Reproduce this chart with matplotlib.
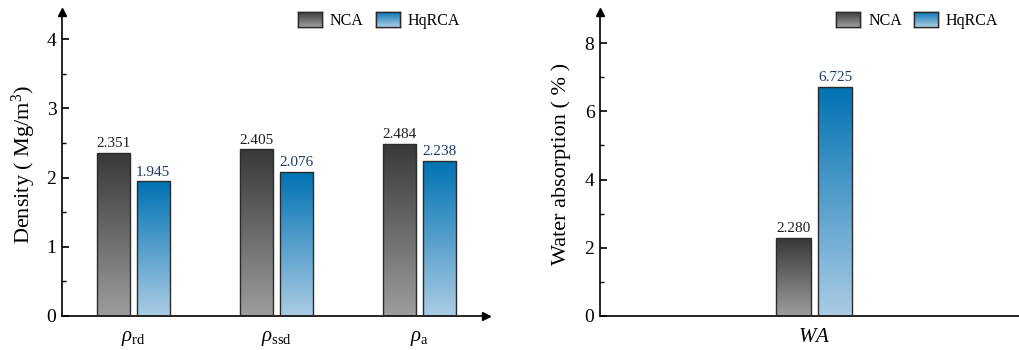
import matplotlib
matplotlib.use('Agg')
import matplotlib.pyplot as plt
import numpy as np
from matplotlib.colors import LinearSegmentedColormap
from matplotlib.ticker import MultipleLocator

plt.rcParams['font.family'] = ['Liberation Serif', 'DejaVu Serif']
plt.rcParams['mathtext.fontset'] = 'custom'
plt.rcParams['mathtext.rm'] = 'Liberation Serif'
plt.rcParams['mathtext.it'] = 'Liberation Serif:italic'

# densities (Mg/m3)
density_labels = [r'$\rho_{\mathrm{rd}}$', r'$\rho_{\mathrm{ssd}}$', r'$\rho_{\mathrm{a}}$']
density_nca = [2.351, 2.405, 2.484]
density_hqrca = [1.945, 2.076, 2.238]

# water absorption (%)
wa_labels = [r'$WA$']
wa_nca = [2.280]
wa_hqrca = [6.725]

series_names = ['NCA', 'HqRCA']

cmap_nca = LinearSegmentedColormap.from_list('nca', ['#9d9d9d', '#383838'])
cmap_hq = LinearSegmentedColormap.from_list('hq', ['#abcce5', '#0072b2'])

W = 0.23
OFF = 0.138


def gradient_bars(ax, x, vals, cmap):
    bars = ax.bar(x, vals, W, facecolor='none', edgecolor='#2b2b2b', lw=1.0, zorder=3)
    grad = np.linspace(0, 1, 256).reshape(-1, 1)
    for b in bars:
        x0, w, h = b.get_x(), b.get_width(), b.get_height()
        im = ax.imshow(grad, cmap=cmap, origin='lower', aspect='auto',
                       extent=(x0, x0 + w, 0, h), zorder=2)
        im.set_clip_path(b)
    return bars


def style_axis(ax, ymax, major, minor, xlim, arrow_x=True):
    ax.set_xlim(*xlim)
    ax.set_ylim(0, ymax)
    for s in ['top', 'right']:
        ax.spines[s].set_visible(False)
    for s in ['left', 'bottom']:
        ax.spines[s].set_linewidth(1.2)
    ax.yaxis.set_major_locator(MultipleLocator(major))
    ax.yaxis.set_minor_locator(MultipleLocator(minor))
    ax.tick_params(axis='y', which='major', direction='in', length=5, width=1.2,
                   labelsize=14, pad=4)
    ax.tick_params(axis='y', which='minor', direction='in', length=3, width=1.0)
    ax.tick_params(axis='x', length=0, labelsize=15, pad=9)
    ax.plot(0, 1, '^k', ms=6, transform=ax.transAxes, clip_on=False)
    if arrow_x:
        ax.plot(1, 0, '>k', ms=6, transform=ax.transAxes, clip_on=False)


def add_labels(ax, bars, vals, color):
    for b, v in zip(bars, vals):
        ax.annotate('%.3f' % v, (b.get_x() + b.get_width() / 2, v),
                    xytext=(0, 2), textcoords='offset points',
                    ha='center', va='bottom', fontsize=11, color=color)


fig = plt.figure(figsize=(10.2, 3.5), dpi=100)

# density panel
ax1 = fig.add_axes([62 / 1020, 34 / 350, 424 / 1020, 304 / 350])
x = np.arange(len(density_labels))
b1 = gradient_bars(ax1, x - OFF, density_nca, cmap_nca)
b2 = gradient_bars(ax1, x + OFF, density_hqrca, cmap_hq)
add_labels(ax1, b1, density_nca, '#1e1e1e')
add_labels(ax1, b2, density_hqrca, '#1f3a66')
style_axis(ax1, 4.39, 1, 0.5, (-0.5, 2.465))
ax1.set_xticks(x)
ax1.set_xticklabels(density_labels)
ax1.set_ylabel('Density ( Mg/m$^3$)', fontsize=16, labelpad=6)

# water absorption panel
ax2 = fig.add_axes([600 / 1020, 34 / 350, 420 / 1020, 304 / 350])
x2 = np.arange(len(wa_labels))
c1 = gradient_bars(ax2, x2 - OFF, wa_nca, cmap_nca)
c2 = gradient_bars(ax2, x2 + OFF, wa_hqrca, cmap_hq)
add_labels(ax2, c1, wa_nca, '#1e1e1e')
add_labels(ax2, c2, wa_hqrca, '#1f3a66')
style_axis(ax2, 8.91, 2, 1, (-1.408, 1.355), arrow_x=False)
ax2.set_xticks(x2)
ax2.set_xticklabels(wa_labels)
ax2.set_ylabel('Water absorption ( % )', fontsize=16, labelpad=10)

# legends with gradient swatches
legends = []
for ax, anchor, bars in [(ax1, 0.939, (b1, b2)), (ax2, 0.948, (c1, c2))]:
    leg = ax.legend([bars[0][0], bars[1][0]], series_names, loc='upper right',
                    bbox_to_anchor=(anchor, 1.0), ncol=2, frameon=False,
                    fontsize=11.5, handlelength=1.5, handleheight=1.1,
                    handletextpad=0.5, columnspacing=0.75, borderaxespad=0,
                    borderpad=0)
    legends.append(leg)

fig.canvas.draw()
inv = fig.transFigure.inverted()
for leg in legends:
    for patch, cmap in zip(leg.get_patches(), [cmap_nca, cmap_hq]):
        bb = patch.get_window_extent().transformed(inv)
        sw = fig.add_axes([bb.x0, bb.y0, bb.width, bb.height])
        sw.imshow(np.linspace(0, 1, 64).reshape(-1, 1), cmap=cmap,
                  origin='lower', aspect='auto')
        sw.set_xticks([])
        sw.set_yticks([])
        for s in sw.spines.values():
            s.set_linewidth(1.0)
            s.set_color('#2b2b2b')

fig.savefig('out.png', dpi=100)
